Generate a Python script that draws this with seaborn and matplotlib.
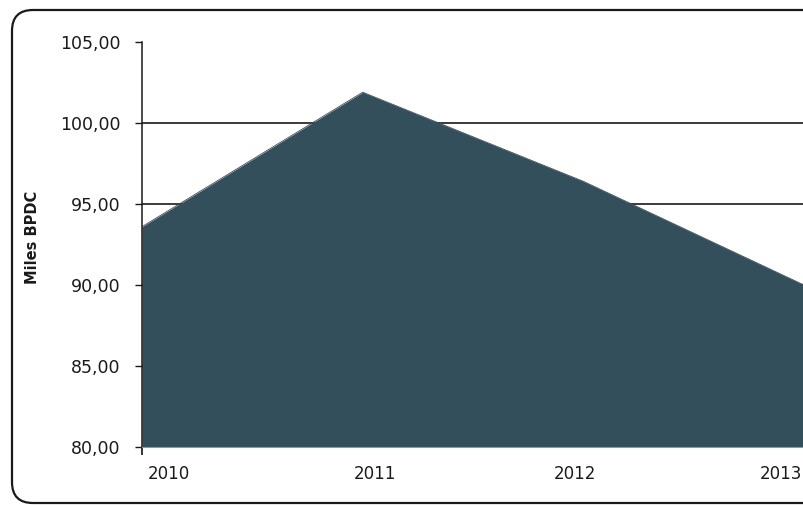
import matplotlib
matplotlib.use("Agg")
import matplotlib.pyplot as plt
import matplotlib.transforms as mtransforms
from matplotlib.patches import FancyBboxPatch
from matplotlib.ticker import FuncFormatter
import pandas as pd
import seaborn as sns

# Data
years = [2010, 2011, 2012, 2013]
values = [93.6, 101.9, 96.4, 90.0]
year_labels = ["2010", "2011", "2012", "2013"]
y_ticks = [80, 85, 90, 95, 100, 105]

sns.set_theme(style="white")
plt.rcParams['font.family'] = ['DejaVu Sans']

area_color = "#344F5C"
ink = "#1a1a1a"

df = pd.DataFrame({"year": years, "value": values})

fig = plt.figure(figsize=(8.04, 5.05), dpi=100)
ax = fig.add_axes([142 / 804, 1 - 447 / 505, (804 - 142) / 804, (447 - 42) / 505])

# Rounded frame around the chart (runs off the right edge)
frame = FancyBboxPatch((12 / 804, 2 / 505), 1.2, (495 - 2) / 505, transform=fig.transFigure,
                       boxstyle="round,pad=0,rounding_size=0.026",
                       fill=False, edgecolor=ink, linewidth=1.6, mutation_aspect=804 / 505)
fig.patches.append(frame)

# Gridlines behind the area
for t in y_ticks[1:-1]:
    ax.axhline(t, color=ink, linewidth=1.2, zorder=0)

sns.lineplot(data=df, x="year", y="value", ax=ax, color=area_color, linewidth=0.6, zorder=2)
ax.fill_between(df["year"], y_ticks[0], df["value"], color=area_color, linewidth=0, zorder=2)

ax.set_xlim(years[0], years[-1])
ax.set_ylim(y_ticks[0], y_ticks[-1])
ax.set_yticks(y_ticks)
ax.yaxis.set_major_formatter(FuncFormatter(lambda v, p: f"{v:.2f}".replace(".", ",")))
ax.tick_params(axis="y", left=True, length=5, width=1, color=ink, pad=10.5,
               labelsize=12.5, labelcolor=ink)

ax.set_xticks(years)
ax.set_xticklabels(year_labels)
ax.tick_params(axis="x", bottom=True, length=0, pad=13, labelsize=12, labelcolor=ink)
ax.xaxis.get_major_ticks()[0].tick1line.set_markersize(6)
ax.xaxis.get_major_ticks()[0].tick1line.set_markeredgecolor(ink)

offsets = [27, 12, -8, -23]
for lab, dx in zip(ax.get_xticklabels(), offsets):
    lab.set_transform(lab.get_transform() + mtransforms.ScaledTranslation(dx / 100, 0, fig.dpi_scale_trans))

for side in ["top", "right"]:
    ax.spines[side].set_visible(False)
ax.spines["left"].set_color(ink)
ax.spines["left"].set_linewidth(1.1)
ax.spines["bottom"].set_color("#8a9aa3")
ax.spines["bottom"].set_linewidth(0.8)

ax.set_xlabel("")
ax.set_ylabel("Miles BPDC", fontsize=10.5, fontweight="bold", color=ink)
ax.yaxis.set_label_coords(-0.154, 0.518)
ax.set_facecolor("white")
ax.grid(False)

fig.savefig("out.png", dpi=100, facecolor="white")
